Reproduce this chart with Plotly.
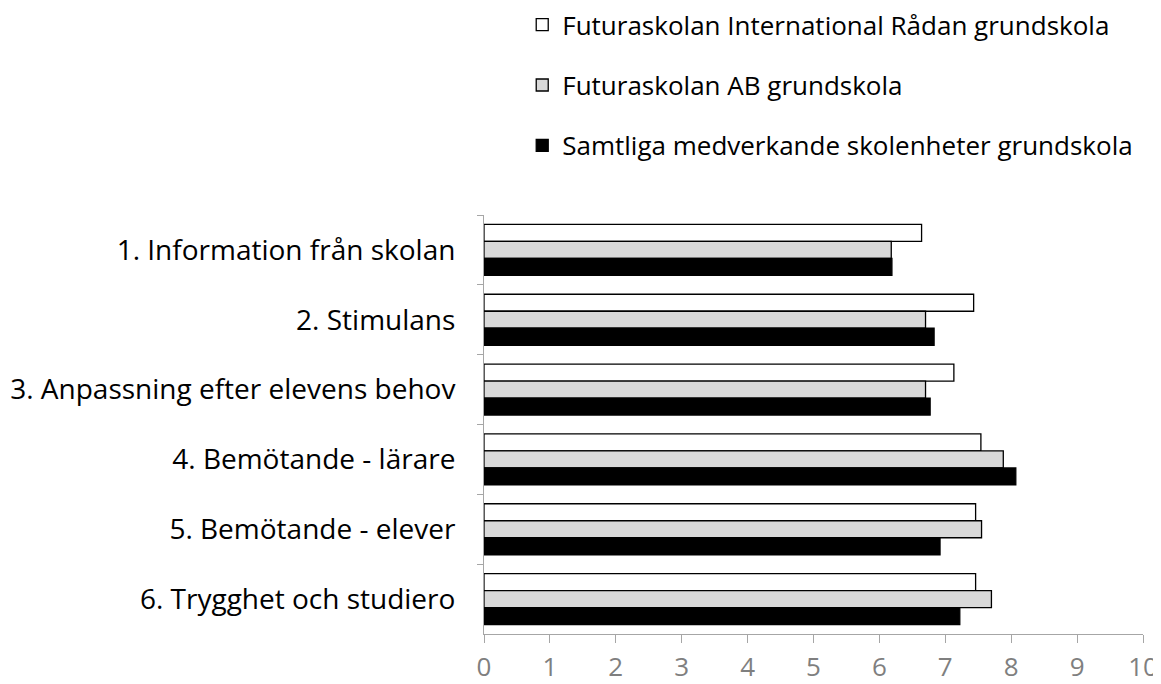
import plotly.graph_objects as go

categories = [
    "1. Information från skolan",
    "2. Stimulans",
    "3. Anpassning efter elevens behov",
    "4. Bemötande - lärare",
    "5. Bemötande - elever",
    "6. Trygghet och studiero",
]
series_names = [
    "Futuraskolan International Rådan grundskola",
    "Futuraskolan AB grundskola",
    "Samtliga medverkande skolenheter grundskola",
]
radan = [6.64, 7.43, 7.13, 7.54, 7.46, 7.46]
futura_ab = [6.18, 6.70, 6.70, 7.88, 7.55, 7.70]
samtliga = [6.19, 6.83, 6.77, 8.07, 6.92, 7.22]
x_ticks = list(range(0, 11))

fills = ["#ffffff", "#d9d9d9", "#000000"]
values = [radan, futura_ab, samtliga]

fig = go.Figure()
for i, (name, vals, col) in enumerate(zip(series_names, values, fills)):
    fig.add_trace(go.Bar(
        y=categories, x=vals, name=name, orientation="h",
        marker=dict(color=col, line=dict(color="#000000", width=1.3)),
        legendgroup=f"g{i}",
    ))

font_family = "'Open Sans', sans-serif"
fig.update_layout(
    width=1153, height=676,
    barmode="group", bargap=0.27, bargroupgap=0,
    plot_bgcolor="white", paper_bgcolor="white",
    margin=dict(l=476, r=18, t=207, b=50, autoexpand=False),
    font=dict(family=font_family, color="#000000"),
    legend=dict(
        x=0.058, xanchor="left", y=1.51, yanchor="top",
        font=dict(size=26, family=font_family, color="#000000"),
        traceorder="grouped", tracegroupgap=23.5,
        itemwidth=30, bgcolor="rgba(0,0,0,0)",
    ),
    xaxis=dict(
        range=[0, 10], tickvals=x_ticks, ticks="outside", ticklen=8,
        tickcolor="#a6a6a6", showline=True, linecolor="#a6a6a6", linewidth=1,
        showgrid=False, zeroline=False, automargin=False, ticklabelstandoff=2,
        tickfont=dict(size=26, color="#7f7f7f", family=font_family),
    ),
    yaxis=dict(
        autorange="reversed", ticks="outside", ticklen=6, tickson="boundaries",
        tickcolor="#a6a6a6", showline=True, linecolor="#a6a6a6", linewidth=1,
        showgrid=False, ticklabelstandoff=22, automargin=False,
        tickfont=dict(size=28, color="#000000", family=font_family),
    ),
)
fig.write_html("out.html")
